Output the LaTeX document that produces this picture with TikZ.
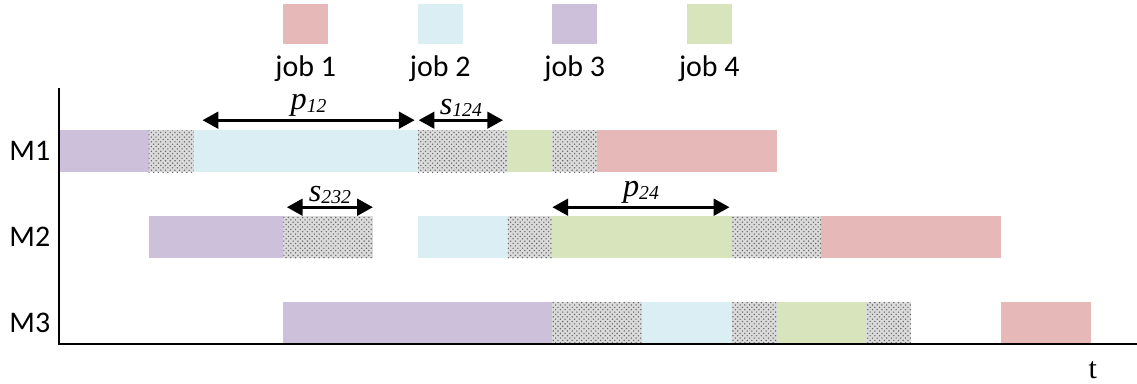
\documentclass[tikz,border=0pt]{standalone}
\usepackage{fontspec}
\setmainfont{Carlito}
\newfontfamily\timesfont{Liberation Serif}
\usetikzlibrary{patterns,arrows.meta}

\definecolor{jobred}{HTML}{E6B8B7}
\definecolor{jobblue}{HTML}{DAEEF3}
\definecolor{jobpurple}{HTML}{CCC0DA}
\definecolor{jobgreen}{HTML}{D8E4BC}

\newcommand{\lbl}[2]{{\timesfont\itshape\fontsize{20.5}{20}\selectfont #1\raisebox{-1.5pt}{\fontsize{12.5}{12}\selectfont #2}}}

\tikzset{
  jobone/.style={fill=jobred},
  jobtwo/.style={fill=jobblue},
  jobthree/.style={fill=jobpurple},
  jobfour/.style={fill=jobgreen},
  setup/.style={fill=gray!28,postaction={pattern=crosshatch dots,pattern color=black!60}},
  axis/.style={line width=1.9pt},
  span/.style={line width=1.9pt,{Triangle[length=10pt,width=10.5pt]}-{Triangle[length=10pt,width=10.5pt]}},
  txt/.style={font=\fontsize{19}{19}\selectfont}
}

\begin{document}
\begin{tikzpicture}
        \useasboundingbox (-1.3155,-0.8696) rectangle (24.036,7.670);
        % legend
        \fill[jobone] (5,6.69) rectangle (6,7.58);
        \fill[jobtwo] (8,6.69) rectangle (9,7.58);
        \fill[jobthree] (11,6.69) rectangle (12,7.58);
        \fill[jobfour] (14,6.69) rectangle (15,7.58);
        \node[txt](l1) at (5.5,6.15) {job 1};
        \node[txt](l2) at (8.5,6.15) {job 2};
        \node[txt](l3) at (11.5,6.15) {job 3};
        \node[txt](l4) at (14.5,6.15) {job 4};
        % M1
        \fill[jobthree] (0,3.83) rectangle (2,4.77);
        \fill[setup] (2,3.83) rectangle (3,4.77);
        \fill[jobtwo] (3,3.83) rectangle (8,4.77);
        \fill[setup] (8,3.83) rectangle (10,4.77);
        \fill[jobfour] (10,3.83) rectangle (11,4.77);
        \fill[setup] (11,3.83) rectangle (12,4.77);
        \fill[jobone] (12,3.83) rectangle (16,4.77);
        % M2
        \fill[jobthree] (2,1.91) rectangle (5,2.85);
        \fill[setup] (5,1.91) rectangle (7,2.85);
        \fill[jobtwo] (8,1.91) rectangle (10,2.85);
        \fill[setup] (10,1.91) rectangle (11,2.85);
        \fill[jobfour] (11,1.91) rectangle (15,2.85);
        \fill[setup] (15,1.91) rectangle (17,2.85);
        \fill[jobone] (17,1.91) rectangle (21,2.85);
        % M3
        \fill[jobthree] (5,0) rectangle (11,0.94);
        \fill[setup] (11,0) rectangle (13,0.94);
        \fill[jobtwo] (13,0) rectangle (15,0.94);
        \fill[setup] (15,0) rectangle (16,0.94);
        \fill[jobfour] (16,0) rectangle (18,0.94);
        \fill[setup] (18,0) rectangle (19,0.94);
        \fill[jobone] (21,0) rectangle (23,0.94);
        % axes
        \coordinate(o) at (0,0);
        \coordinate(top) at (0,5.71);
        \coordinate(right) at (24.1,0);
        \draw[axis](top)--(o)--(right);
        \node[txt](m1) at (-0.65,4.3) {M1};
        \node[txt](m2) at (-0.65,2.38) {M2};
        \node[txt](m3) at (-0.65,0.47) {M3};
        \node[font=\timesfont\fontsize{19}{19}\selectfont](t) at (23.05,-0.58) {t};
        % spans
        \coordinate(a1) at (3.2,4.99);
        \coordinate(a2) at (7.93,4.99);
        \coordinate(b1) at (8.02,4.99);
        \coordinate(b2) at (9.9,4.99);
        \coordinate(c1) at (5.08,3.05);
        \coordinate(c2) at (7.0,3.05);
        \coordinate(d1) at (11.0,3.05);
        \coordinate(d2) at (14.95,3.05);
        \draw[span](a1)--(a2) node[midway,above=-2pt]{\lbl{p}{12}};
        \draw[span](b1)--(b2) node[midway,above=-2pt]{\lbl{s}{124}};
        \draw[span](c1)--(c2) node[midway,above=-2pt]{\lbl{s}{232}};
        \draw[span](d1)--(d2) node[midway,above=-2pt]{\lbl{p}{24}};
        \end{tikzpicture}
\end{document}
